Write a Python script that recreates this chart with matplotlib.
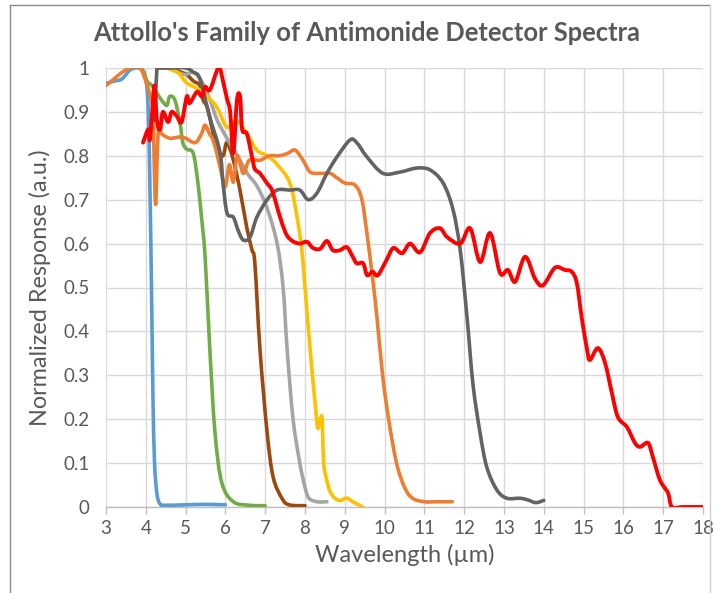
import matplotlib
matplotlib.use("Agg")
import matplotlib.pyplot as plt
import numpy as np
from matplotlib.lines import Line2D
from matplotlib.path import Path
from matplotlib.patches import PathPatch

plt.rcParams['font.family'] = ['Lato', 'DejaVu Sans']

# --- data (wavelength in µm, normalized response) ---
blue_x = [3.0, 3.2, 3.4, 3.6, 3.8, 3.95, 4.05, 4.1, 4.15, 4.18, 4.22, 4.28, 4.35, 4.45, 5.0, 5.5, 6.0]
blue_y = [0.965, 0.97, 0.975, 0.995, 1.0, 0.99, 0.93, 0.75, 0.45, 0.25, 0.1, 0.03, 0.008, 0.004, 0.005, 0.006, 0.005]

orange_x = [3.0, 3.2, 3.4, 3.6, 3.85, 4.0, 4.1, 4.18, 4.22, 4.25, 4.28, 4.32, 4.4, 4.6, 4.86, 5.0, 5.24, 5.4, 5.49,
            5.6, 5.69, 5.8, 5.9, 6.0, 6.1, 6.2, 6.3, 6.45, 6.6, 6.87, 7.1, 7.35, 7.55, 7.75, 7.95, 8.13, 8.4, 8.63,
            8.8, 9.0, 9.26, 9.43, 9.56, 9.7, 9.81, 9.95, 10.1, 10.3, 10.5, 10.7, 11.0, 11.3, 11.7]
orange_y = [0.96, 0.975, 0.99, 1.0, 1.0, 0.97, 0.94, 0.9, 0.75, 0.69, 0.78, 0.86, 0.85, 0.84, 0.843, 0.84, 0.83, 0.85, 0.87,
            0.85, 0.836, 0.8, 0.76, 0.73, 0.78, 0.74, 0.8, 0.76, 0.79, 0.79, 0.8, 0.8, 0.805, 0.813, 0.79, 0.763, 0.76, 0.76,
            0.75, 0.738, 0.733, 0.7, 0.62, 0.52, 0.43, 0.3, 0.2, 0.1, 0.045, 0.02, 0.012, 0.012, 0.012]

gray_x = [4.4, 4.6, 4.8, 5.0, 5.2, 5.4, 5.6, 5.8, 6.04, 6.3, 6.55, 6.8, 7.05, 7.3, 7.45, 7.55, 7.7, 7.87, 8.0, 8.1, 8.3, 8.55]
gray_y = [1.0, 1.0, 0.99, 0.985, 0.99, 0.97, 0.93, 0.88, 0.84, 0.8, 0.76, 0.73, 0.68, 0.6, 0.5, 0.36, 0.2, 0.1, 0.045, 0.02, 0.012, 0.012]

yellow_x = [4.5, 4.8, 5.03, 5.36, 5.6, 5.79, 6.04, 6.29, 6.54, 6.79, 7.05, 7.3, 7.62, 7.8, 7.92, 8.0, 8.13, 8.25, 8.32,
            8.38, 8.43, 8.47, 8.55, 8.63, 8.75, 8.88, 9.05, 9.2, 9.45]
yellow_y = [1.0, 0.99, 0.966, 0.95, 0.93, 0.91, 0.865, 0.88, 0.85, 0.813, 0.8, 0.78, 0.738, 0.66, 0.585, 0.5, 0.357, 0.24,
            0.18, 0.2, 0.2, 0.1, 0.06, 0.035, 0.02, 0.015, 0.02, 0.012, 0.0]

dgray_x = [4.22, 4.28, 4.35, 4.6, 5.0, 5.2, 5.36, 5.6, 5.86, 5.94, 6.04, 6.2, 6.32, 6.45, 6.62, 6.79, 7.05, 7.3, 7.62, 7.87,
           8.08, 8.3, 8.55, 8.8, 9.13, 9.3, 9.56, 9.96, 10.39, 10.8, 11.14, 11.47, 11.72, 11.9, 12.07, 12.22, 12.4, 12.57,
           12.82, 13.07, 13.4, 13.6, 13.8, 14.0]
dgray_y = [0.88, 1.0, 1.0, 1.0, 1.0, 0.99, 0.975, 0.89, 0.81, 0.738, 0.67, 0.66, 0.63, 0.608, 0.615, 0.66, 0.7, 0.722, 0.722,
           0.722, 0.7, 0.715, 0.76, 0.797, 0.836, 0.83, 0.797, 0.76, 0.763, 0.772, 0.768, 0.738, 0.677, 0.585, 0.433, 0.28,
           0.168, 0.09, 0.039, 0.02, 0.02, 0.016, 0.01, 0.015]

brown_x = [4.36, 4.6, 4.9, 5.03, 5.2, 5.36, 5.44, 5.56, 5.79, 5.94, 6.04, 6.2, 6.37, 6.54, 6.67, 6.74, 6.87, 7.05, 7.2,
           7.42, 7.6, 8.0]
brown_y = [1.0, 1.0, 0.99, 0.985, 0.97, 0.96, 0.927, 0.905, 0.813, 0.8, 0.83, 0.79, 0.72, 0.635, 0.585, 0.555, 0.357, 0.168,
           0.068, 0.02, 0.005, 0.003]

green_x = [3.85, 3.95, 4.03, 4.15, 4.3, 4.41, 4.53, 4.6, 4.73, 4.86, 4.93, 5.03, 5.19, 5.3, 5.4, 5.49, 5.61, 5.74, 5.91,
           6.2, 6.6, 7.0]
green_y = [1.0, 0.99, 0.97, 0.96, 0.94, 0.925, 0.915, 0.935, 0.927, 0.875, 0.83, 0.815, 0.806, 0.745, 0.66, 0.57, 0.357,
           0.168, 0.055, 0.012, 0.004, 0.003]

red_x = [3.93, 4.06, 4.1, 4.16, 4.22, 4.28, 4.36, 4.43, 4.56, 4.65, 4.78, 4.9, 5.03, 5.1, 5.29, 5.41, 5.49, 5.61, 5.79,
         5.86, 5.94, 6.04, 6.12, 6.2, 6.29, 6.37, 6.42, 6.54, 6.67, 6.74, 6.87, 7.04, 7.17, 7.3, 7.42, 7.55, 7.7, 7.87,
         8.05, 8.2, 8.38, 8.55, 8.7, 8.88, 9.05, 9.2, 9.3, 9.46, 9.56, 9.7, 9.83, 10.05, 10.22, 10.44, 10.64, 10.89,
         11.14, 11.39, 11.57, 11.9, 12.15, 12.4, 12.65, 12.9, 13.1, 13.28, 13.53, 13.78, 13.98, 14.28, 14.53, 14.7,
         14.83, 14.95, 15.09, 15.16, 15.36, 15.54, 15.71, 15.86, 16.09, 16.29, 16.42, 16.62, 16.74, 16.92, 17.12,
         17.22, 17.5, 18.0]
red_y = [0.83, 0.86, 0.836, 0.9, 0.96, 0.88, 0.86, 0.9, 0.877, 0.9, 0.89, 0.877, 0.935, 0.92, 0.946, 0.935, 0.957, 0.95, 0.995,
         1.0, 0.97, 0.93, 0.9, 0.806, 0.927, 0.934, 0.86, 0.85, 0.797, 0.77, 0.76, 0.738, 0.722, 0.683, 0.647, 0.618,
         0.605, 0.6, 0.604, 0.59, 0.588, 0.606, 0.585, 0.585, 0.592, 0.57, 0.555, 0.555, 0.528, 0.536, 0.528, 0.563,
         0.59, 0.578, 0.6, 0.58, 0.624, 0.635, 0.615, 0.6, 0.635, 0.558, 0.624, 0.533, 0.54, 0.513, 0.57, 0.52, 0.505,
         0.545, 0.54, 0.536, 0.51, 0.433, 0.357, 0.335, 0.362, 0.328, 0.26, 0.205, 0.182, 0.146, 0.137, 0.146, 0.114,
         0.061, 0.032, 0.0, 0.0, 0.0]

x_ticks = list(range(3, 19))
y_ticks = [0, 0.1, 0.2, 0.3, 0.4, 0.5, 0.6, 0.7, 0.8, 0.9, 1.0]
y_ticklabels = ['0', '0.1', '0.2', '0.3', '0.4', '0.5', '0.6', '0.7', '0.8', '0.9', '1']

series = [
    (blue_x, blue_y, '#5B9BD5', 2.6),
    (green_x, green_y, '#70AD47', 2.6),
    (brown_x, brown_y, '#9E480E', 2.6),
    (gray_x, gray_y, '#A5A5A5', 2.6),
    (yellow_x, yellow_y, '#FFC000', 2.6),
    (orange_x, orange_y, '#ED7D31', 2.6),
    (dgray_x, dgray_y, '#636363', 2.6),
    (red_x, red_y, '#FF0000', 2.8),
]


def smooth_path(xs, ys):
    """Excel-style smoothed line: Catmull-Rom style Bezier segments through the data points."""
    pts = np.column_stack([xs, ys]).astype(float)
    verts = [pts[0]]
    codes = [Path.MOVETO]
    n = len(pts)
    for i in range(n - 1):
        p0 = pts[i - 1] if i > 0 else pts[i]
        p1 = pts[i]
        p2 = pts[i + 1]
        p3 = pts[i + 2] if i + 2 < n else pts[i + 1]
        c1 = p1 + (p2 - p0) / 6.0
        c2 = p2 - (p3 - p1) / 6.0
        verts += [c1, c2, p2]
        codes += [Path.CURVE4] * 3
    return Path(verts, codes)


fig = plt.figure(figsize=(7.14, 5.93), dpi=100)
ax = fig.add_axes([106/714, 1 - 507/593, (703-106)/714, (507-68)/593])

for k, (xs, ys, c, lw) in enumerate(series):
    ax.add_patch(PathPatch(smooth_path(xs, ys), facecolor='none', edgecolor=c, lw=lw,
                           joinstyle='round', capstyle='round', zorder=3 + k * 0.01))

ax.set_xlim(3, 18)
ax.set_ylim(0, 1)
ax.set_xticks(x_ticks)
ax.set_yticks(y_ticks)
ax.set_yticklabels(y_ticklabels)
ax.grid(True, color='#D9D9D9', lw=1.0, zorder=0)
ax.set_axisbelow(True)
for s in ['top', 'right', 'left']:
    ax.spines[s].set_visible(False)
ax.spines['bottom'].set_color('#BFBFBF')
ax.spines['bottom'].set_linewidth(1.0)
ax.tick_params(axis='x', colors='#BFBFBF', length=5, width=1.0, labelcolor='#595959', labelsize=13.5, pad=4)
ax.tick_params(axis='y', length=0, labelcolor='#595959', labelsize=13.5, pad=12)
ax.set_xlabel('Wavelength (µm)', fontsize=17, color='#595959', labelpad=5)
ax.set_ylabel('Normalized Response (a.u.)', fontsize=16.8, color='#595959', labelpad=9)

fig.text(367/714, 1 - 33/593, "Attollo's Family of Antimonide Detector Spectra", ha='center', va='center',
         fontsize=18.4, fontweight='bold', color='#595959')

# chart frame
frame_color = '#8C8C8C'
fig.add_artist(Line2D([10/714, 10/714], [0, 1 - 5/593], transform=fig.transFigure, color=frame_color, lw=1.0))
fig.add_artist(Line2D([10/714, 710/714], [1 - 5/593, 1 - 5/593], transform=fig.transFigure, color=frame_color, lw=1.0))
fig.add_artist(Line2D([710/714, 710/714], [0, 1 - 5/593], transform=fig.transFigure, color='#D0D0D0', lw=1.0))

fig.savefig('out.png', dpi=100)
